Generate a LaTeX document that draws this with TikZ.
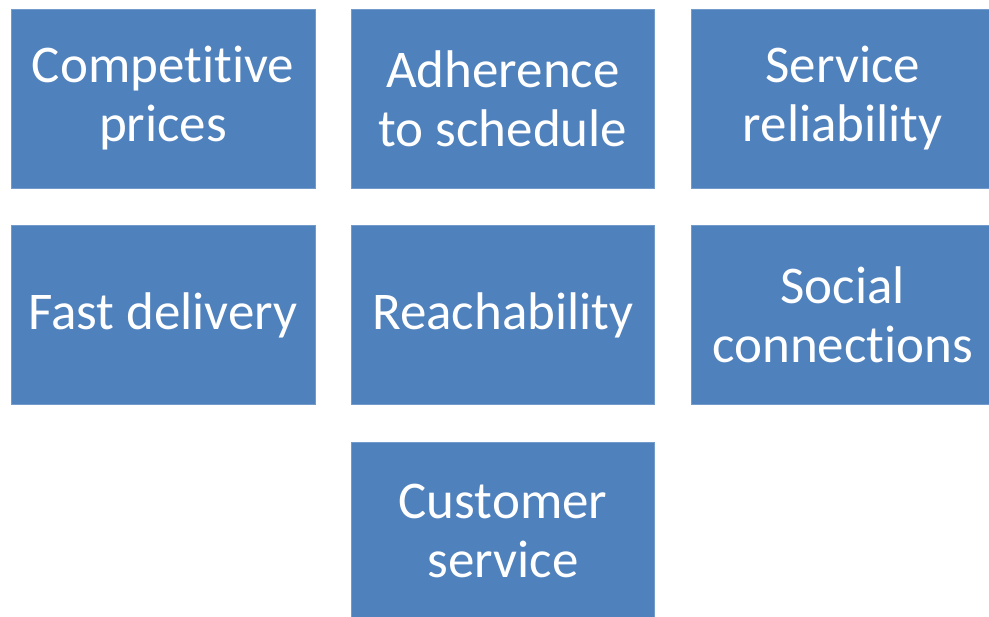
\documentclass[tikz,border=0pt]{standalone}
\usepackage{fontspec}
\setmainfont{Carlito}[Ligatures={NoCommon}, RawFeature={-liga}]
\usetikzlibrary{positioning}
\definecolor{kachel}{RGB}{79,129,189}
\tikzset{kachel/.style={fill=kachel, draw=kachel!80!white, text=white, minimum width=303.5pt, minimum height=179pt, inner sep=0pt, align=center, font=\fontsize{53}{59}\selectfont}}

\begin{document}
\begin{tikzpicture}[x=1pt, y=1pt]

	\useasboundingbox (0,0) rectangle (989,-617);
	\clip (0,0) rectangle (989,-617);

	% first row
	\node[kachel] (prices) at (163,-98.5) {Competitive\\prices};
	\node[kachel, right=36pt of prices] (schedule) {Adherence\\to schedule};
	\node[kachel, right=36pt of schedule] (reliability) {Service\\reliability};

	% second row
	\node[kachel, below=37pt of prices] (delivery) {Fast delivery};
	\node[kachel, below=37pt of schedule] (reach) {Reachability};
	\node[kachel, below=37pt of reliability] (social) {Social\\connections};

	% third row
	\node[kachel, below=37pt of reach] (service) {Customer\\service};

\end{tikzpicture}
\end{document}
